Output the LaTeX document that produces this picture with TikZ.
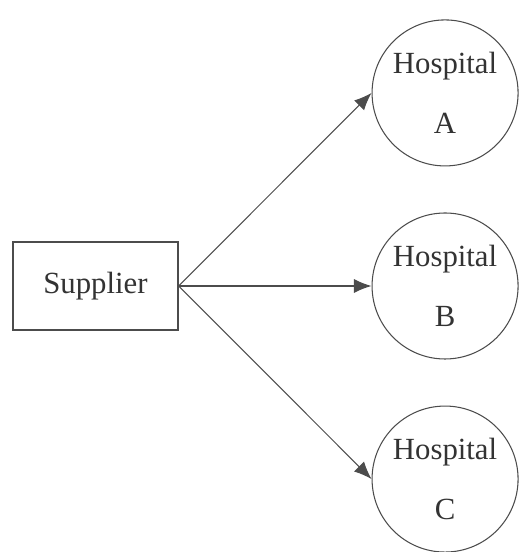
\documentclass[tikz,border=0pt]{standalone}
\usepackage{fontspec}
\setmainfont{Liberation Serif}
\usepackage{tikz}
\usetikzlibrary{
	arrows.meta,
	positioning,
	}

\begin{document}
\begin{tikzpicture}[
		every node/.style={font=\fontsize{17.5}{34}\selectfont, text=black!80},
		box/.style={draw=black!70, line width=0.6pt, minimum width=3.3cm, minimum height=1.76cm},
		site/.style={draw=black!70, line width=0.6pt, circle, inner sep=0pt, minimum size=2.92cm, align=center},
		link/.style={draw=black!70, line width=0.6pt, -{Latex[length=10pt, width=8pt]}},
	]
		\useasboundingbox (0,0) rectangle (10.4,11.04);
		\node[box] (sup) at (1.91,5.32) {Supplier};
		\node[site, right = 3.86cm of sup] (B) {Hospital\\B};
		\node[site, above = 0.92cm of B] (A) {Hospital\\A};
		\node[site, below = 0.92cm of B] (C) {Hospital\\C};
		\draw[link] (sup.east) -- (A.west);
		\draw[link] (sup.east) -- (B.west);
		\draw[link] (sup.east) -- (C.west);
	\end{tikzpicture}
\end{document}
